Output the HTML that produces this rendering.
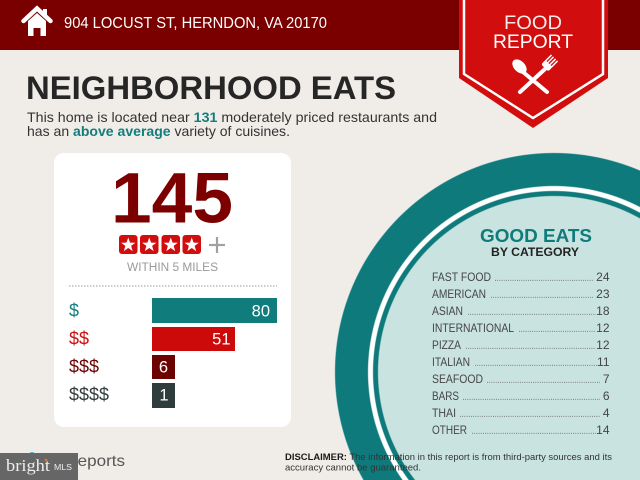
<!DOCTYPE html>
<html><head><meta charset="utf-8"><style>
html,body{margin:0;padding:0;width:640px;height:480px;overflow:hidden;}
body{background:#f0ede9;}
#bg{position:absolute;left:0;top:0;width:640px;height:480px;
background:radial-gradient(circle at 554px 372px,#c9e3e0 0,#c9e3e0 175.5px,#0f7a7b 176.5px,#0f7a7b 180.5px,#ffffff 181.5px,#ffffff 185.5px,#0f7a7b 186.5px,#0f7a7b 218.5px,#f0ede9 219.5px);}
svg{position:absolute;left:0;top:0;display:block;}
</style></head><body>
<div id="bg"></div>
<svg width="640" height="480" viewBox="0 0 640 480" xmlns="http://www.w3.org/2000/svg" font-family="Liberation Sans, sans-serif">
<!-- header -->
<rect x="0" y="0" width="640" height="50" fill="#7a0000"/>
<!-- house -->
<polyline points="23.5,21 37,8.5 50.5,21" fill="none" stroke="#fff" stroke-width="4.5" stroke-linecap="round" stroke-linejoin="miter"/>
<rect x="43" y="9" width="4" height="8" fill="#fff"/>
<path d="M28 21 L37 13 L46 21 V36 H40.5 V28 H33.5 V36 H28 Z" fill="#fff"/>
<text x="64" y="28" font-size="15.5" fill="#fff" textLength="263" lengthAdjust="spacingAndGlyphs">904 LOCUST ST, HERNDON, VA 20170</text>
<!-- badge -->
<polygon points="459,0 608,0 608,78 533,128 459,78" fill="#d20d0d"/>
<polyline points="464,0 464,74 533,118 603,74 603,0" fill="none" stroke="#fff" stroke-width="2.5"/>
<text x="533" y="29" font-size="19" fill="#f4eaea" text-anchor="middle" textLength="58" lengthAdjust="spacingAndGlyphs">FOOD</text>
<text x="533" y="48" font-size="19" fill="#fff" text-anchor="middle" textLength="80" lengthAdjust="spacingAndGlyphs">REPORT</text>
<!-- spoon -->
<line x1="523" y1="72" x2="547" y2="92" stroke="#fff" stroke-width="4" stroke-linecap="round"/>
<ellipse cx="519.5" cy="66.5" rx="5.5" ry="8.5" fill="#fff" transform="rotate(-45 519.5 66.5)"/>
<!-- fork -->
<line x1="545" y1="69" x2="520" y2="92" stroke="#fff" stroke-width="4" stroke-linecap="round"/>
<g transform="translate(547.5,65) rotate(45)">
<rect x="-5" y="-2" width="10" height="6" rx="2" fill="#fff"/>
<rect x="-5" y="-10" width="1.5" height="9" fill="#fff"/>
<rect x="-2.2" y="-10" width="1.5" height="9" fill="#fff"/>
<rect x="0.7" y="-10" width="1.5" height="9" fill="#fff"/>
<rect x="3.5" y="-10" width="1.5" height="9" fill="#fff"/>
</g>
<!-- title -->
<text x="26" y="99" font-size="32" font-weight="bold" fill="#262626" textLength="370" lengthAdjust="spacingAndGlyphs">NEIGHBORHOOD EATS</text>
<text x="27" y="122" font-size="14" fill="#333" textLength="410" lengthAdjust="spacingAndGlyphs">This home is located near <tspan font-weight="bold" fill="#137c7c">131</tspan> moderately priced restaurants and</text>
<text x="27" y="136" font-size="14" fill="#333" textLength="263" lengthAdjust="spacingAndGlyphs">has an <tspan font-weight="bold" fill="#137c7c">above average</tspan> variety of cuisines.</text>
<!-- card -->
<rect x="54" y="153" width="237" height="274" rx="10" fill="#ffffff"/>
<text x="172" y="222.7" font-size="71" font-weight="bold" fill="#7d0000" text-anchor="middle" textLength="122" lengthAdjust="spacingAndGlyphs">145</text>
<g fill="#d20d0d">
<rect x="119" y="235" width="18.5" height="19" rx="3"/>
<rect x="140" y="235" width="18.5" height="19" rx="3"/>
<rect x="161.5" y="235" width="18.5" height="19" rx="3"/>
<rect x="182.5" y="235" width="18.5" height="19" rx="3"/>
</g>
<g fill="#fff">
<polygon transform="translate(128.25,245)" points="0,-7.5 1.8,-2.4 7.1,-2.3 2.9,0.9 4.4,6.1 0,3 -4.4,6.1 -2.9,0.9 -7.1,-2.3 -1.8,-2.4"/>
<polygon transform="translate(149.25,245)" points="0,-7.5 1.8,-2.4 7.1,-2.3 2.9,0.9 4.4,6.1 0,3 -4.4,6.1 -2.9,0.9 -7.1,-2.3 -1.8,-2.4"/>
<polygon transform="translate(170.75,245)" points="0,-7.5 1.8,-2.4 7.1,-2.3 2.9,0.9 4.4,6.1 0,3 -4.4,6.1 -2.9,0.9 -7.1,-2.3 -1.8,-2.4"/>
<polygon transform="translate(191.75,245)" points="0,-7.5 1.8,-2.4 7.1,-2.3 2.9,0.9 4.4,6.1 0,3 -4.4,6.1 -2.9,0.9 -7.1,-2.3 -1.8,-2.4"/>
</g>
<line x1="209" y1="245" x2="225" y2="245" stroke="#a0a0a0" stroke-width="2.2"/>
<line x1="217" y1="237" x2="217" y2="253" stroke="#a0a0a0" stroke-width="2.2"/>
<text x="127" y="271" font-size="11.5" fill="#9a9a9a" textLength="91" lengthAdjust="spacingAndGlyphs">WITHIN 5 MILES</text>
<line x1="69" y1="286" x2="277" y2="286" stroke="#999" stroke-width="1" stroke-dasharray="1.5,1.5"/>
<!-- bars -->
<text x="69" y="316.5" font-size="18" fill="#167f7f">$</text>
<text x="69" y="344.5" font-size="18" fill="#cc1111">$$</text>
<text x="69" y="372.5" font-size="18" fill="#6e0505">$$$</text>
<text x="69" y="400.5" font-size="18" fill="#333d3d">$$$$</text>
<rect x="152" y="298" width="125" height="25" fill="#107c7c"/>
<rect x="152" y="327" width="83" height="24" fill="#cc0a0a"/>
<rect x="152" y="355" width="23" height="24" fill="#6b0303"/>
<rect x="152" y="383" width="23" height="25" fill="#2f3c3c"/>
<text x="270" y="316.5" font-size="16.5" fill="#fff" text-anchor="end">80</text>
<text x="230.5" y="344.5" font-size="16.5" fill="#fff" text-anchor="end">51</text>
<text x="163.5" y="372.5" font-size="16.5" fill="#fff" text-anchor="middle">6</text>
<text x="164" y="400.5" font-size="16.5" fill="#fff" text-anchor="middle">1</text>
<!-- good eats -->
<text x="480" y="241.8" font-size="18" font-weight="bold" fill="#107b7b" textLength="112" lengthAdjust="spacingAndGlyphs">GOOD EATS</text>
<text x="491" y="256" font-size="12" font-weight="bold" fill="#222" textLength="88" lengthAdjust="spacingAndGlyphs">BY CATEGORY</text>
<g font-size="12" fill="#454545">
<text x="432" y="281" textLength="59" lengthAdjust="spacingAndGlyphs">FAST FOOD</text>
<text x="432" y="298" textLength="54" lengthAdjust="spacingAndGlyphs">AMERICAN</text>
<text x="432" y="315" textLength="31" lengthAdjust="spacingAndGlyphs">ASIAN</text>
<text x="432" y="332" textLength="82" lengthAdjust="spacingAndGlyphs">INTERNATIONAL</text>
<text x="432" y="349" textLength="29" lengthAdjust="spacingAndGlyphs">PIZZA</text>
<text x="432" y="366" textLength="38" lengthAdjust="spacingAndGlyphs">ITALIAN</text>
<text x="432" y="383" textLength="51" lengthAdjust="spacingAndGlyphs">SEAFOOD</text>
<text x="432" y="400" textLength="27" lengthAdjust="spacingAndGlyphs">BARS</text>
<text x="432" y="417" textLength="24" lengthAdjust="spacingAndGlyphs">THAI</text>
<text x="432" y="434" textLength="35" lengthAdjust="spacingAndGlyphs">OTHER</text>
</g>
<g font-size="12" fill="#454545" text-anchor="end">
<text x="609.5" y="281">24</text>
<text x="609.5" y="298">23</text>
<text x="609.5" y="315">18</text>
<text x="609.5" y="332">12</text>
<text x="609.5" y="349">12</text>
<text x="609.5" y="366">11</text>
<text x="609.5" y="383">7</text>
<text x="609.5" y="400">6</text>
<text x="609.5" y="417">4</text>
<text x="609.5" y="434">14</text>
</g>
<g stroke="#666" stroke-width="0.9" stroke-dasharray="0.9,1.3">
<line x1="495" y1="280.3" x2="593" y2="280.3"/>
<line x1="491" y1="297.3" x2="593" y2="297.3"/>
<line x1="468" y1="314.3" x2="596" y2="314.3"/>
<line x1="519" y1="331.3" x2="596" y2="331.3"/>
<line x1="466" y1="348.3" x2="596" y2="348.3"/>
<line x1="475" y1="365.3" x2="599" y2="365.3"/>
<line x1="487" y1="382.3" x2="600" y2="382.3"/>
<line x1="463" y1="399.3" x2="600" y2="399.3"/>
<line x1="460" y1="416.3" x2="600" y2="416.3"/>
<line x1="472" y1="433.3" x2="596" y2="433.3"/>
</g>
<!-- disclaimer -->
<text x="285" y="460" font-size="9.5" fill="#333" textLength="327" lengthAdjust="spacingAndGlyphs"><tspan font-weight="bold" fill="#1a1a1a">DISCLAIMER:</tspan> The information in this report is from third-party sources and its</text>
<text x="285" y="470.5" font-size="9.5" fill="#333" textLength="136" lengthAdjust="spacingAndGlyphs">accuracy cannot be guaranteed.</text>
<!-- bottom-left logo -->
<circle cx="32" cy="455" r="3" fill="#3aa6c8"/>
<text x="72" y="466" font-size="16" fill="#555" textLength="53" lengthAdjust="spacingAndGlyphs">reports</text>
<rect x="0" y="453" width="78" height="27" fill="#666"/>
<text x="6" y="471" style="font-family:'Liberation Serif',serif" font-size="17" fill="#eee" textLength="44" lengthAdjust="spacingAndGlyphs">bright</text>
<circle cx="46" cy="460" r="1.3" fill="#e07a2a"/>
<text x="54" y="470" font-size="8" fill="#eee" textLength="18" lengthAdjust="spacingAndGlyphs">MLS</text>
</svg>
</body></html>
